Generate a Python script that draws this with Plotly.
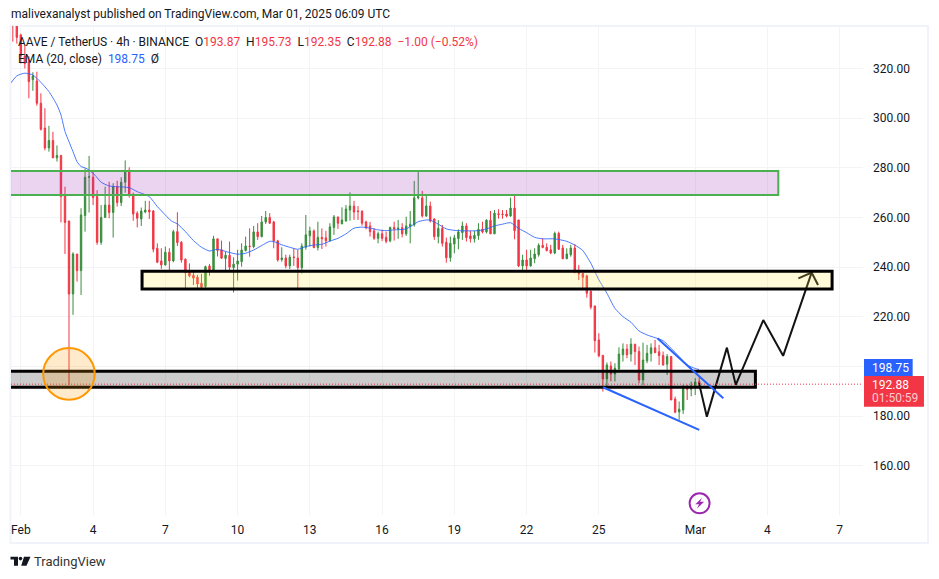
import pandas as pd
import plotly.graph_objects as go

FONT = "Roboto"
RED = "#F23645"
GREEN = "#388E3C"
BLUE = "#2962FF"
INK = "#131722"

opens = [345,337,333.5,325,322.7,315.5,315,306,296,288,291,284,285,268.8,258.6,229.2,245.3,238.6,260.8,276.2,
276.2,268.4,250,260,265,262,272.4,266,274.2,279,269.3,261.7,259.4,262.2,263,262.6,247.6,242.5,240.9,246,
242.5,254.3,250,243.2,238,236.7,235.9,233.5,232.2,240.5,238.6,251.4,247,243.5,244.8,239.8,241.2,242.2,246.7,248.5,
248.3,254.2,252.3,258.2,260,258.2,250.6,243,243.7,240.5,244.1,243.7,239.8,248,252.6,254.6,247.9,252,251.8,250.6,
256,260.2,257.4,258.6,263,264.6,262.6,262.4,258.2,256.6,254.6,251.6,253.4,252,250.6,256,255.4,255.9,253.4,256.3,
257,267.9,267.9,260.6,264.6,259.4,252.3,255.6,250,243.8,249.3,251.5,253.9,256.6,252.6,251.4,252.7,255.2,254.2,258.9,
253.4,261.5,261.4,261.4,260.6,263.8,259,240.5,242.9,240.5,243.4,245,248.8,248,247,245.7,253.6,247.7,243.4,245,
247.7,238.6,237.5,236.5,230.2,224.4,210.7,204.5,195,200.2,197,199,204.7,207,205,209,206,194.6,202.3,205.2,
207.5,205.9,204.4,200.9,204,186.9,181.7,182.5,191.6,190.8,192.2,193.87]
highs = [350,340,334,329,325,318.5,318.7,310,304,296.9,294.5,289,285,272.4,258.6,246,245.3,263.7,279.8,284.8,
279,271,265,272.4,274.4,273.8,274.8,276.2,283,280.2,270,262.5,264,266.7,266.7,263,249.6,247.6,248.3,247.6,
255,262.1,250.5,243.5,241.5,238.2,236.9,237.3,240.6,241.3,252.6,251.4,250.7,246.3,250.3,244,247,249.6,252.3,255.6,
256.6,257.7,260.6,262.6,261.7,258.6,251,248,245,245,247.6,247,249.6,261,256.3,255.2,258.3,255.6,254.6,257.7,
261,260.3,264.1,265,270.1,266.7,264.6,263,258.7,258.2,255.7,254.3,255,254.3,256.3,258.3,259,257.7,260.3,262.6,
274.7,278.9,270.7,269.3,266.4,259.7,259,257,251.9,252.3,253,255.2,258.3,257.7,254.6,254.6,257.7,258.3,259.3,262.6,
263,263.3,263,263,268,268.8,259,245,247,247,247.6,249.6,251.6,249.6,249,254.3,254.3,249,247.6,249,
249.3,240.9,237.5,236.9,231.5,224.4,213.4,204.5,201.6,202,201.3,207.7,209.3,209,211.4,209,208,209.6,208.7,209.3,
210.7,208.7,206,205,204.2,187.9,185.9,192.6,192.6,193.9,195.3,195.73]
lows = [330.8,330,322,320,308,311,305,295,287,286.5,284,282.5,258,245.3,192.6,220.8,234.2,228.8,254.3,262,
265,249,249,260,259.7,251.9,264.4,264.6,270,268,258.7,256,256.6,261.7,259.4,246,241.6,239.3,240.6,238.2,
242,248.5,241.8,231.2,235.9,232.8,231.5,231.2,231.5,236.5,238.2,244.3,243.3,238.2,238.2,229.8,234.6,240.2,246.3,244.2,
247.6,251,252,257.4,257.4,247.6,242.2,242.2,239.5,239.2,240.5,231.5,237.5,247,248.3,247.6,246.7,247.3,248.3,250.3,
253,255.4,257.4,258.3,258.7,259,259,256.7,255.2,252.3,251,249.6,250.5,249.6,250,250.7,251.4,252,252.6,249.6,
256.3,267.3,260,260.3,258,251,249.6,248.3,241.8,242.2,245.6,247.2,251,250.3,249.9,249.9,251,253.6,253.6,253.4,
253.4,259.5,259.5,260,260.3,251.2,240,238.6,238.9,240.2,241.6,244.2,247.6,246.3,245.2,245.2,246.9,243.2,243.2,244.2,
237.5,234.8,230.8,227.7,223,205.6,203.7,189.9,191.9,194,194,198,202,203.3,202,200.6,193.2,192.6,201.3,202,
205.3,200.6,200.4,196.6,186.5,181.2,178.5,180.9,186.5,188,188.5,192.35]
closes = [338,332.5,325,322,314.7,317,306,295.5,288,291,284,285,268.4,258,229.2,245.3,238.6,261,276.2,276.4,
268,250,260,265,262,272.4,266,274.2,278.9,269,261.4,259.7,262.6,263,262.2,247.2,242,240.9,246,242.5,
254.3,249.9,242.9,237.8,236.5,235.6,233.2,231.9,240.2,238.6,251.4,246.7,243.6,244.8,240,241.2,242.5,246.9,248.5,248.3,
254.2,252.3,258.2,260,257.7,250.6,242.9,243.7,240.5,244,243.9,239.8,248.5,253,254.6,247.9,252,251.4,250.6,256.2,
260.2,257.7,259,263.4,264.6,262.2,262.4,257.7,255.9,254.3,251.6,253.4,251.6,250.4,256,255.4,255.7,253.4,256.6,257.3,
267.9,268.4,260.6,264.6,258.6,252.3,255.6,249.6,243.8,249.6,251.8,254.2,256.6,251.9,251.4,252.8,255.2,254.2,258.9,253.4,
261.7,261.2,261.2,260.6,263.8,254.7,240.5,242.9,240.5,243.7,245.3,248.8,247.9,246.7,245.7,253.6,247.2,243.4,245.3,247.7,
238.2,237.3,235.9,229.5,223.9,210.4,204.3,195,200.6,197,199.3,205,207,204.7,209,206,194.6,202.6,205.3,207.5,
205.6,204.4,200.6,204,186.5,181.6,182.8,191.2,190.8,192.2,193.7,192.88]
assert len(opens) == len(highs) == len(lows) == len(closes) == 172

ema_bars = [-1,1,3,5,7,9,11,12,13,14,15,16,17,18,19,20.5,22,24,26,29,31,34,36,38,39.5,41,43,45,47,49,51,53.5,56,
58,60,62,64,65,67,69,71,73,75,77,79,81,83,85,87,89,91,93,95,98,
101,103,104,106,108,110,113,116,118,120,122,124,126,128,130,132,135,138,140,142,143.4,
144,145,146,148,150,152,154,156,158,160,162,164,166,168,170,171]
ema_values = [313,317,318.1,317.4,314.4,310.7,305.3,301.3,294.6,290.5,286.5,282.5,280.5,280,279.1,277,274.2,272.7,272.4,272,270.4,268.4,264.4,261,258.6,257.4,254.3,250.7,248,246.5,247.2,246.1,245.2,
245.6,246.9,248.7,250.4,250.3,249,248,247.2,248.3,248.9,249.2,250.5,251.6,253.4,255.7,256.1,255.7,255,254.7,255,255.4,
258.3,259,258.9,257.3,255.4,254.8,254.6,254.7,255.4,256.6,257.3,257.9,255.6,253.9,252,251.4,251.4,250.4,248.9,246.7,243.2,
241.6,238.2,234.9,229.5,223.4,220.1,217.8,214.3,212.7,211.6,210.4,207.3,204,200.6,199.2,198.75]

path_bars = [170.95,172.9,177.9,180.1,186.96,191.9,199,195.7,199,200.6]
path_prices = [193.3,179.8,207.6,192.6,218.7,204.3,237.8,235.5,237.8,232.8]

price_ticks = [320,300,280,260,240,220,200,180,160]
day_tick_bars = [2,20,38,56,74,92,110,128,146,170,188,206]
day_tick_labels = ["Feb","4","7","10","13","16","19","22","25","Mar","4","7"]

START = pd.Timestamp("2025-01-31 16:00")
def bar(i):
    return START + pd.Timedelta(hours=4 * i)

L, R, T, B = 10.5, 863.0, 26.0, 515.0
W, H = 939, 579
def fx(px):
    return (px - L) / (R - L)
def fy(py):
    return 1 - (py - T) / (B - T)
def poly(points):
    return "M" + " L".join(f"{fx(x):.5f},{fy(y):.5f}" for x, y in points) + " Z"

dates = [bar(i) for i in range(len(opens))]

fig = go.Figure()
fig.add_trace(go.Candlestick(
    x=dates, open=opens, high=highs, low=lows, close=closes,
    increasing=dict(line=dict(color=GREEN, width=1), fillcolor=GREEN),
    decreasing=dict(line=dict(color=RED, width=1), fillcolor=RED),
    whiskerwidth=0, showlegend=False, hoverinfo="skip"))
fig.add_trace(go.Scatter(x=[bar(i) for i in ema_bars], y=ema_values, mode="lines",
                         line=dict(color=BLUE, width=1, shape="spline", smoothing=0.6),
                         showlegend=False, hoverinfo="skip", opacity=0.85))
fig.add_trace(go.Scatter(x=[bar(i) for i in path_bars], y=path_prices, mode="lines",
                         line=dict(color="#131313", width=2),
                         showlegend=False, hoverinfo="skip"))

shapes = []
def zone(i0, i1, p0, p1, fill, line, width):
    shapes.append(dict(type="rect", xref="x", yref="y", x0=bar(i0), x1=bar(i1), y0=p0, y1=p1,
                       fillcolor=fill, line=dict(color=line, width=width), layer="above"))

zone(-6, 190.7, 269.1, 278.7, "rgba(156,39,176,0.2)", "#4CAF50", 2)
zone(32.2, 204.1, 231.2, 238.3, "rgba(255,235,59,0.2)", "#000000", 3)
zone(-6, 185, 191.65, 198.1, "rgba(0,0,0,0.2)", "#000000", 3)
# last-price dotted line
shapes.append(dict(type="line", xref="paper", yref="y", x0=0, x1=1, y0=192.88, y1=192.88,
                   line=dict(color=RED, width=1, dash="1px,2px"), layer="above"))
# orange circle
shapes.append(dict(type="circle", xref="x", yref="y", x0=bar(7.57), x1=bar(20.41), y0=186.6, y1=207.4,
                   fillcolor="rgba(255,152,0,0.2)", line=dict(color="#FF9800", width=2), layer="above"))
# blue trend lines
shapes.append(dict(type="line", xref="x", yref="y", x0=bar(147), x1=bar(171), y0=191.65, y1=174.5,
                   line=dict(color=BLUE, width=2), layer="above"))
shapes.append(dict(type="line", xref="x", yref="y", x0=bar(160.6), x1=bar(177), y0=211.4, y1=187.2,
                   line=dict(color=BLUE, width=2), layer="above"))
# outer frame
shapes.append(dict(type="rect", xref="paper", yref="paper", x0=fx(10), x1=fx(928), y0=fy(543), y1=fy(26),
                   line=dict(color="#F0F3FA", width=2), layer="below"))
# price tags
shapes.append(dict(type="rect", xref="paper", yref="paper", x0=fx(864), x1=fx(912.7), y0=fy(376), y1=fy(359),
                   fillcolor=BLUE, line=dict(width=0), layer="above"))
shapes.append(dict(type="rect", xref="paper", yref="paper", x0=fx(864), x1=fx(924), y0=fy(406.7), y1=fy(376),
                   fillcolor=RED, line=dict(width=0), layer="above"))
# lightning badge
shapes.append(dict(type="circle", xref="paper", yref="paper", x0=fx(689.5), x1=fx(709.5), y0=fy(513.3), y1=fy(493.3),
                   line=dict(color="#9C27B0", width=2), layer="above"))
shapes.append(dict(type="path", xref="paper", yref="paper",
                   path=poly([(702,497.8),(695.3,504.3),(699,504.3),(696.7,508.7),(704,501.7),(700,501.7)]),
                   fillcolor="#9C27B0", line=dict(width=0), layer="above"))
# TradingView logo
shapes.append(dict(type="path", xref="paper", yref="paper",
                   path=poly([(10,556.7),(17.5,556.7),(17.5,565.7),(13.5,565.7),(13.5,559.5),(10,559.5)]),
                   fillcolor=INK, line=dict(width=0), layer="above"))
shapes.append(dict(type="circle", xref="paper", yref="paper", x0=fx(18.2), x1=fx(21.8), y0=fy(560.4), y1=fy(556.8),
                   fillcolor=INK, line=dict(width=0), layer="above"))
shapes.append(dict(type="path", xref="paper", yref="paper",
                   path=poly([(23.5,556.7),(30,556.7),(26,565.7),(20.7,565.7)]),
                   fillcolor=INK, line=dict(width=0), layer="above"))

def note(px, py, text, size=12, color=INK, anchor="left"):
    return dict(xref="paper", yref="paper", x=fx(px), y=fy(py), text=text, showarrow=False,
                xanchor=anchor, yanchor="middle", align="left", borderpad=0, borderwidth=0,
                font=dict(family=FONT, size=size, color=color))

def col(text, color):
    return f'<span style="color:{color}">{text}</span>'

NB = "\u00a0"
GAP = NB + NB
header = ("AAVE / TetherUS · 4h · BINANCE" + GAP + "O" + col("193.87", RED) + GAP + "H" + col("195.73", RED) +
          GAP + "L" + col("192.35", RED) + GAP + "C" + col("192.88", RED) + GAP + col("−1.00 (−0.52%)", RED))
ema_label = "EMA (20, close)" + GAP + col("198.75", BLUE) + GAP + "Ø"

annotations = [
    note(10, 14, "malivexanalyst published on TradingView.com, Mar 01, 2025 06:09 UTC"),
    note(18, 42, header),
    note(18, 59, ema_label),
    note(872, 367.5, "198.75", color="#FFFFFF"),
    note(872, 384.5, "192.88", color="#FFFFFF"),
    note(872, 398, "01:50:59", color="rgba(255,255,255,0.75)"),
    note(33.5, 561, "TradingView", size=13, color="#333333"),
]

fig.update_layout(
    width=W, height=H, autosize=False,
    margin=dict(l=L, r=W - R, t=T, b=H - B, pad=0),
    paper_bgcolor="#FFFFFF", plot_bgcolor="#FFFFFF",
    font=dict(family=FONT, size=12, color=INK),
    showlegend=False, shapes=shapes, annotations=annotations, boxgap=0.5,
    xaxis=dict(type="date", range=[bar(-0.45), bar(211.8)], rangeslider=dict(visible=False),
               tickmode="array", tickvals=[bar(i) for i in day_tick_bars], ticktext=day_tick_labels,
               showgrid=True, gridcolor="#F3F4F6", gridwidth=1, zeroline=False, showline=False,
               ticks="", ticklabelstandoff=6, tickfont=dict(family=FONT, size=12, color=INK), fixedrange=True),
    yaxis=dict(range=[140.2, 337.1], side="right", tickmode="array", tickvals=price_ticks,
               ticktext=[f"{v:.2f}" for v in price_ticks],
               showgrid=True, gridcolor="#F3F4F6", gridwidth=1, zeroline=False, showline=False,
               ticks="", ticklabelstandoff=9, tickfont=dict(family=FONT, size=12, color=INK), fixedrange=True),
)

fig.write_html("out.html", config=dict(displayModeBar=False),
               post_script="document.body.style.margin='0';")
